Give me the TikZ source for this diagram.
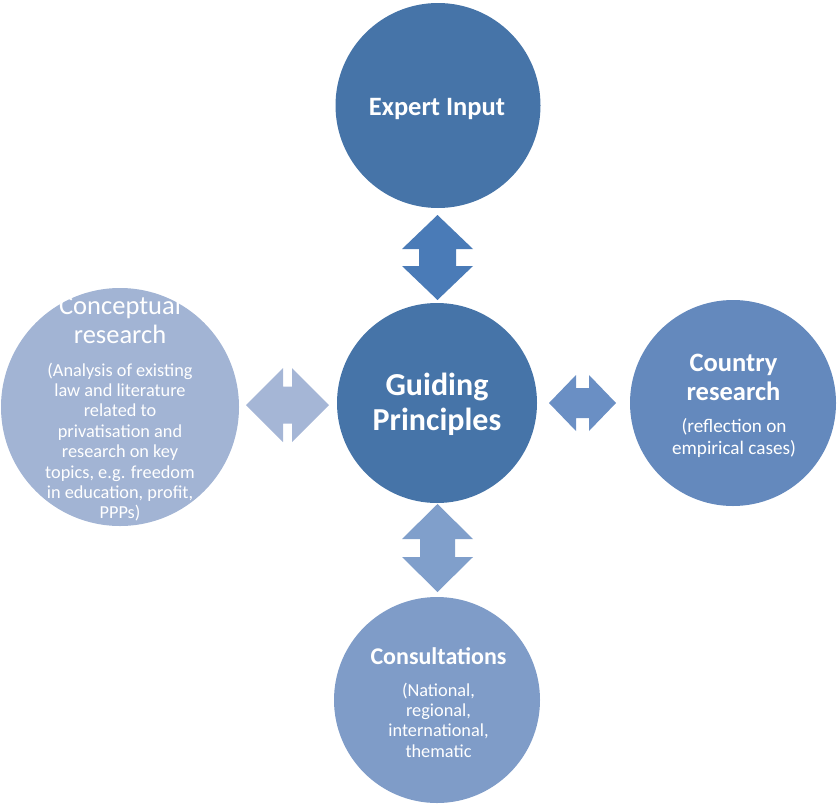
\documentclass[tikz,border=0pt]{standalone}
\usepackage{fontspec}
\setmainfont{Carlito}
\definecolor{cDark}{HTML}{4674A8}
\definecolor{cMid}{HTML}{6489BD}
\definecolor{cLight}{HTML}{7F9CC8}
\definecolor{cPale}{HTML}{A2B4D4}
\definecolor{aTop}{HTML}{4A7BB7}
\definecolor{aRight}{HTML}{6A8FC4}
\definecolor{aBottom}{HTML}{809FCB}
\definecolor{aLeft}{HTML}{A5B6D6}
\tikzset{
  bubble/.style={circle, inner sep=0pt, draw=none, minimum size=#1},
  ttl/.style={text=white, align=center, inner sep=0pt, font=\fontsize{26.5}{29}\selectfont\bfseries},
  body/.style={text=white, align=center, inner sep=0pt, font=\fontsize{18.3}{20.4}\selectfont},
  pics/varrow/.style args={#1/#2/#3/#4}{code={
    \fill (0,-#1) -- (#3,-#1+#2) -- (#4,-#1+#2) -- (#4,#1-#2) -- (#3,#1-#2) -- (0,#1)
      -- (-#3,#1-#2) -- (-#4,#1-#2) -- (-#4,-#1+#2) -- (-#3,-#1+#2) -- cycle;}},
  pics/harrow/.style args={#1/#2/#3/#4}{code={
    \fill (-#1,0) -- (-#1+#2,#3) -- (-#1+#2,#4) -- (#1-#2,#4) -- (#1-#2,#3) -- (#1,0)
      -- (#1-#2,-#3) -- (#1-#2,-#4) -- (-#1+#2,-#4) -- (-#1+#2,-#3) -- cycle;}}
}
\begin{document}
\begin{tikzpicture}[x=1pt,y=-1pt]
\useasboundingbox (0,0) rectangle (837,803);
% circles
\node[bubble=205pt, fill=cDark] (expert) at (438,105.5) {};
\node[bubble=200pt, fill=cDark] (guide) at (437,403) {};
\node[bubble=206pt, fill=cMid] (country) at (733,403) {};
\node[bubble=206pt, fill=cLight] (consult) at (437,700) {};
\node[bubble=238pt, fill=cPale] (concept) at (120,407) {};
% block arrows
\coordinate (aT) at (437.5,257.5);
\coordinate (aB) at (437.5,548);
\coordinate (aL) at (287.5,405);
\coordinate (aR) at (582.5,403);
\path[fill=aTop] (aT) pic {varrow={42.5/34/35.5/18.5}};
\path[fill=aBottom] (aB) pic {varrow={44/35/35.5/17.5}};
\path[fill=aLeft] (aL) pic {harrow={41.5/37/37/18.5}};
\path[fill=aRight] (aR) pic {harrow={33.5/27/28/15}};
% texts
\node[ttl] (expertT) at (437,108.5) {Expert Input};
\node[ttl, font=\fontsize{32}{35}\selectfont\bfseries] (guideT) at (437,404.5) {Guiding\\Principles};
\node[ttl] (countryT) at (733.5,377.5) {Country\\research};
\node[body, font=\fontsize{19.2}{22}\selectfont] (countryB) at (734,438.5) {(reflection on\\empirical cases)};
\node[ttl, font=\fontsize{24}{25}\selectfont\bfseries] (consultT) at (438.5,656.5) {Consultations};
\node[body] (consultB) at (438.5,720) {(National,\\regional,\\international,\\thematic};
\node[ttl, font=\fontsize{26.5}{29}\selectfont] (conceptT) at (120,320) {Conceptual\\research};
\node[body] (conceptB) at (120,442) {(Analysis of existing\\law and literature\\related to\\privatisation and\\research on key\\topics, e.g. freedom\\in education, profit,\\PPPs)};
\end{tikzpicture}
\end{document}
